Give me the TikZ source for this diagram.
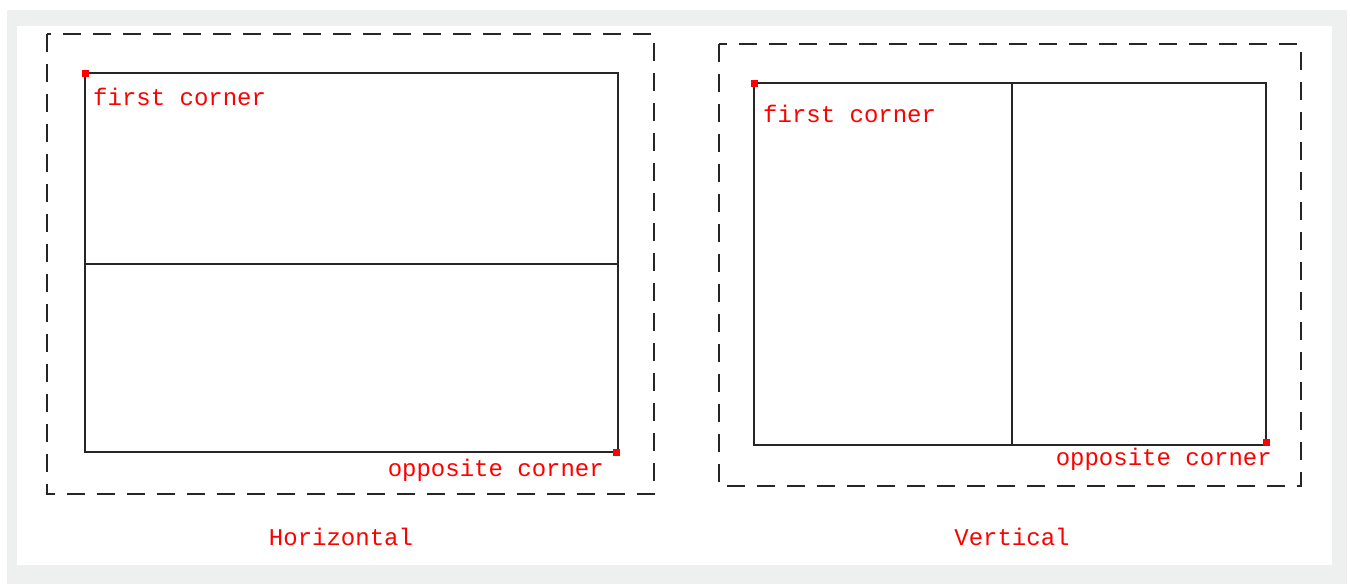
\documentclass[tikz,border=0pt]{standalone}
\usepackage{fontspec}
\setmonofont{Liberation Mono}
\begin{document}
\begin{tikzpicture}[x=1pt,y=-1pt,
  frame/.style={draw=black!85, line width=2pt, dash pattern=on 18pt off 12pt},
  box/.style={draw=black!85, line width=2pt},
  divider/.style={draw=black!85, line width=2pt},
  corner/.style={fill=red, minimum size=7pt, inner sep=0pt, draw=none},
  lbl/.style={text=red, font=\ttfamily\fontsize{24}{25}\selectfont, inner sep=0pt},
  title/.style={text=red, font=\ttfamily\fontsize{24}{25}\selectfont, inner sep=0pt}]
\useasboundingbox (0,0) rectangle (1350,584);
\fill[white] (0,0) rectangle (1350,584);
\fill[fill={rgb,255:red,238;green,240;blue,239}] (7,10) rectangle (1347,584);
\fill[white] (17,26) rectangle (1332,565);
% Left: Horizontal
\draw[frame] (47,34) rectangle (654,494);
\coordinate (l1) at (85,73);
\coordinate (l2) at (618,452);
\draw[box] (l1) rectangle (l2);
\coordinate (hl) at (85,264);
\coordinate (hr) at (618,264);
\draw[divider] (hl) -- (hr);
\node[corner] (lc1) at (85,73) {};
\node[corner] (lc2) at (616,452) {};
\node[lbl, anchor=west] (lfc) at (93,97) {first corner};
\node[lbl, anchor=east] (loc) at (604,470) {opposite corner};
\node[title] (lt) at (341,537) {Horizontal};
% Right: Vertical
\draw[frame] (719,44) rectangle (1301,486);
\coordinate (r1) at (754,83);
\coordinate (r2) at (1266,445);
\draw[box] (r1) rectangle (r2);
\coordinate (vt) at (1012,83);
\coordinate (vb) at (1012,445);
\draw[divider] (vt) -- (vb);
\node[corner] (rc1) at (754,83) {};
\node[corner] (rc2) at (1266,442) {};
\node[lbl, anchor=west] (rfc) at (763,114) {first corner};
\node[lbl, anchor=east] (roc) at (1272,459) {opposite corner};
\node[title] (rt) at (1012,537) {Vertical};
\end{tikzpicture}
\end{document}
